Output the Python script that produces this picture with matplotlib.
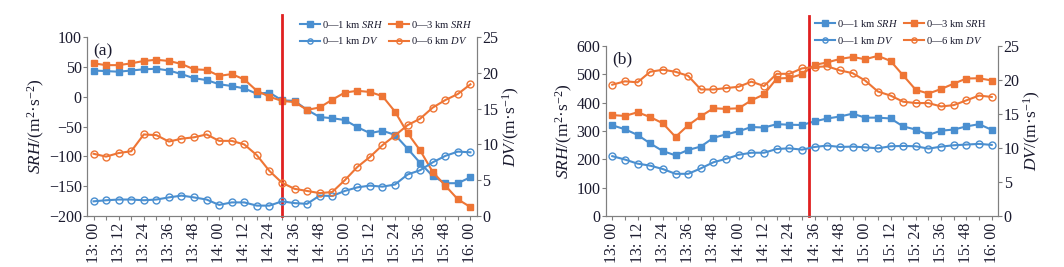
import matplotlib
matplotlib.use("Agg")
import matplotlib.pyplot as plt
import numpy as np

plt.rcParams['font.family'] = ['Liberation Serif', 'DejaVu Serif']
plt.rcParams['mathtext.fontset'] = 'custom'
plt.rcParams['mathtext.it'] = 'Liberation Serif:italic'
plt.rcParams['mathtext.rm'] = 'Liberation Serif'

times = ["13:00", "13:06", "13:12", "13:18", "13:24", "13:30", "13:36", "13:42", "13:48", "13:54",
         "14:00", "14:06", "14:12", "14:18", "14:24", "14:30", "14:36", "14:42", "14:48", "14:54",
         "15:00", "15:06", "15:12", "15:18", "15:24", "15:30", "15:36", "15:42", "15:48", "15:54", "16:00"]

# Panel (a)
a_srh1 = [44, 43, 42, 44, 46, 47, 44, 38, 31, 28, 21, 18, 14, 5, 7, -6, -7, -22, -34, -36,
          -39, -51, -61, -57, -64, -87, -111, -133, -145, -145, -135]
a_srh3 = [56, 53, 53, 56, 60, 62, 60, 55, 46, 45, 35, 38, 29, 10, 0, -7, -9, -22, -18, -5,
          7, 10, 8, 1, -25, -61, -90, -126, -149, -172, -185]
a_dv1 = [2.05, 2.2, 2.3, 2.3, 2.2, 2.3, 2.6, 2.85, 2.6, 2.3, 1.55, 1.9, 1.9, 1.45, 1.45, 2.05,
         1.8, 1.7, 2.85, 2.8, 3.5, 4.0, 4.25, 4.1, 4.4, 5.8, 6.4, 7.5, 8.4, 9.0, 8.9]
a_dv6 = [8.7, 8.3, 8.8, 9.05, 11.4, 11.3, 10.4, 10.8, 11.0, 11.4, 10.5, 10.5, 10.0, 8.5, 6.3,
         4.65, 3.8, 3.5, 3.2, 3.35, 5.0, 6.85, 8.25, 9.9, 11.25, 12.7, 13.6, 15.15, 16.2, 17.05, 18.4]

# Panel (b)
b_srh1 = [320, 306, 286, 256, 229, 214, 233, 245, 276, 288, 299, 314, 312, 324, 322, 321,
          334, 344, 351, 361, 347, 347, 344, 316, 305, 286, 301, 305, 316, 324, 304]
b_srh3 = [356, 353, 366, 349, 327, 279, 320, 352, 380, 378, 380, 408, 429, 485, 487, 500,
          533, 542, 554, 561, 553, 565, 547, 496, 445, 432, 448, 467, 485, 486, 478]
b_dv1 = [8.8, 8.3, 7.7, 7.4, 6.9, 6.2, 6.2, 7.0, 7.9, 8.4, 9.0, 9.3, 9.3, 9.85, 9.95, 9.75,
         10.15, 10.35, 10.15, 10.2, 10.1, 9.95, 10.25, 10.3, 10.25, 9.9, 10.2, 10.4, 10.5, 10.6, 10.45]
b_dv6 = [19.3, 19.8, 19.65, 21.2, 21.5, 21.2, 20.6, 18.6, 18.6, 18.8, 19.0, 19.75, 19.1, 20.9,
         20.9, 21.7, 21.9, 22.0, 21.4, 21.0, 19.9, 18.3, 17.7, 16.8, 16.6, 16.6, 16.1, 16.3, 17.0, 17.7, 17.5]

red_a = 15.0
red_b = 15.55

BLUE = '#4a8fd0'
ORANGE = '#ee7535'
TXT = '#1a1a2e'
SPINE = '#808080'

fig = plt.figure(figsize=(10.64, 2.67), dpi=100)

def panel(rect, srh1, srh3, dv1, dv6, ylim, yticks, letter, redx, red_top, leg_anchor, srh3_label):
    ax = fig.add_axes(rect)
    ax2 = ax.twinx()
    x = np.arange(len(times))
    l1, = ax.plot(x, srh1, color=BLUE, marker='s', ms=5, lw=1.5, label=r'0—1 km $\mathit{SRH}$')
    l2, = ax.plot(x, srh3, color=ORANGE, marker='s', ms=5, lw=1.5, label=srh3_label)
    l3, = ax2.plot(x, dv1, color=BLUE, marker='o', ms=5, mfc='none', mew=1.0, lw=1.5,
                   label=r'0—1 km $\mathit{DV}$')
    l4, = ax2.plot(x, dv6, color=ORANGE, marker='o', ms=5, mfc='none', mew=1.0, lw=1.5,
                   label=r'0—6 km $\mathit{DV}$')
    ax.set_xlim(-0.5, len(times) - 0.5)
    ax.set_ylim(*ylim)
    ax.set_yticks(yticks)
    ax2.set_ylim(0, 25)
    ax2.set_yticks([0, 5, 10, 15, 20, 25])
    ax.set_xticks(x)
    ax.set_xticklabels([t.replace(':', ': ') if i % 2 == 0 else '' for i, t in enumerate(times)],
                       rotation=90, fontsize=11.5, color=TXT)
    for a in (ax, ax2):
        a.spines['top'].set_visible(False)
        for s in ('left', 'right', 'bottom'):
            a.spines[s].set_color(SPINE)
        a.tick_params(axis='both', colors=SPINE, labelcolor=TXT, labelsize=11.5,
                      direction='out', length=3, width=0.8, pad=1)
    ax.tick_params(axis='x', length=3, pad=2)
    ax.set_ylabel(r'$\mathit{SRH}$/(m$^2$·s$^{-2}$)', fontsize=12.5, color=TXT, labelpad=1)
    ax2.set_ylabel(r'$\mathit{DV}$/(m·s$^{-1}$)', fontsize=12.5, color=TXT, labelpad=2)
    ax.text(0.015, 0.9, letter, transform=ax.transAxes, fontsize=12.5, color=TXT)
    ax.axvline(redx, ymin=0, ymax=red_top, color='#e02020', lw=2, clip_on=False, zorder=5)
    leg = fig.legend(handles=[l1, l3, l2, l4], ncol=2, loc='upper left', bbox_to_anchor=leg_anchor,
                     bbox_transform=fig.transFigure,
                     frameon=False, fontsize=7.6, handlelength=1.9, handletextpad=0.2,
                     columnspacing=0.5, labelspacing=0.55, borderaxespad=0, borderpad=0,
                     markerscale=0.75)
    for t in leg.get_texts():
        t.set_color(TXT)
    return ax, ax2

panel([0.082, 0.191, 0.366, 0.670], a_srh1, a_srh3, a_dv1, a_dv6, (-200, 100),
      [-200, -150, -100, -50, 0, 50, 100], '(a)', red_a, 1.123, (0.282, 0.93),
      r'0—3 km $\mathit{SRH}$')
panel([0.5695, 0.191, 0.3685, 0.637], b_srh1, b_srh3, b_dv1, b_dv6, (0, 600),
      [0, 100, 200, 300, 400, 500, 600], '(b)', red_b, 1.176, (0.766, 0.933),
      r'0—3 km $\mathit{SR}$H')

fig.savefig('out.png', dpi=100)
